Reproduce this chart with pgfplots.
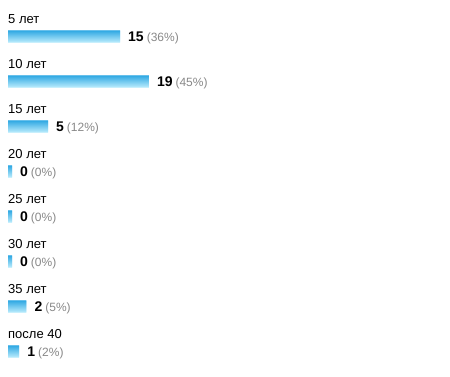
\documentclass[border=0pt]{standalone}
\usepackage{fontspec}
\setmainfont{Liberation Sans}
\usepackage{pgfplots}
\usepackage{pgfplotstable}
\pgfplotsset{compat=1.18}
\definecolor{barTop}{RGB}{170,230,251}
\definecolor{barBot}{RGB}{22,158,224}
\definecolor{pctgray}{RGB}{136,136,136}
\foreach \i in {0,...,11}{\pgfmathtruncatemacro\pc{\i*100/11}\xglobal\colorlet{s\i}{barBot!\pc!barTop}}
\pgfplotstableread[col sep=comma]{
k,v,p,lab
0,15,36,5 лет
1,19,45,10 лет
2,5,12,15 лет
3,0,0,20 лет
4,0,0,25 лет
5,0,0,30 лет
6,2,5,35 лет
7,1,2,после 40
}\data
\begin{document}
\begin{tikzpicture}
\path[use as bounding box] (0,0) rectangle (450pt,376pt);
\begin{axis}[
  at={(0,0)}, anchor=south west,
  scale only axis, width=450pt, height=376pt,
  hide axis, clip=false,
  xmin=-1.1111, xmax=61.3889,
  ymin=-0.8111, ymax=7.5444, y dir=reverse,
]
\pgfplotsinvokeforeach{0,...,11}{
\addplot[xbar, bar width=1.1pt, bar shift={(#1-5.5)*1pt}, draw=none,
  fill=s#1, x filter/.expression={x+0.5556}]
  table[x=v, y=k] {\data};
}
\addplot[draw=none, mark=none,
  x filter/.expression={x+0.5556},
  point meta=explicit symbolic,
  visualization depends on={\thisrow{p} \as \pct},
  nodes near coords={{\fontsize{14}{16}\selectfont\bfseries\pgfplotspointmeta}\hspace{3pt}{\fontsize{12}{14}\selectfont\color{pctgray}(\pgfmathprintnumber[assume math mode=true]{\pct}\%)}},
  every node near coord/.append style={anchor=base west, inner sep=0pt, xshift=8pt, yshift=-5pt, text=black},
] table[x=v, y=k, meta=v] {\data};
\addplot[draw=none, mark=none,
  point meta=explicit symbolic,
  nodes near coords,
  every node near coord/.append style={anchor=base west, inner sep=0pt, yshift=12.8pt, font=\fontsize{13}{15}\selectfont, text=black},
] table[x expr=0, y=k, meta=lab] {\data};
\end{axis}
\end{tikzpicture}
\end{document}
